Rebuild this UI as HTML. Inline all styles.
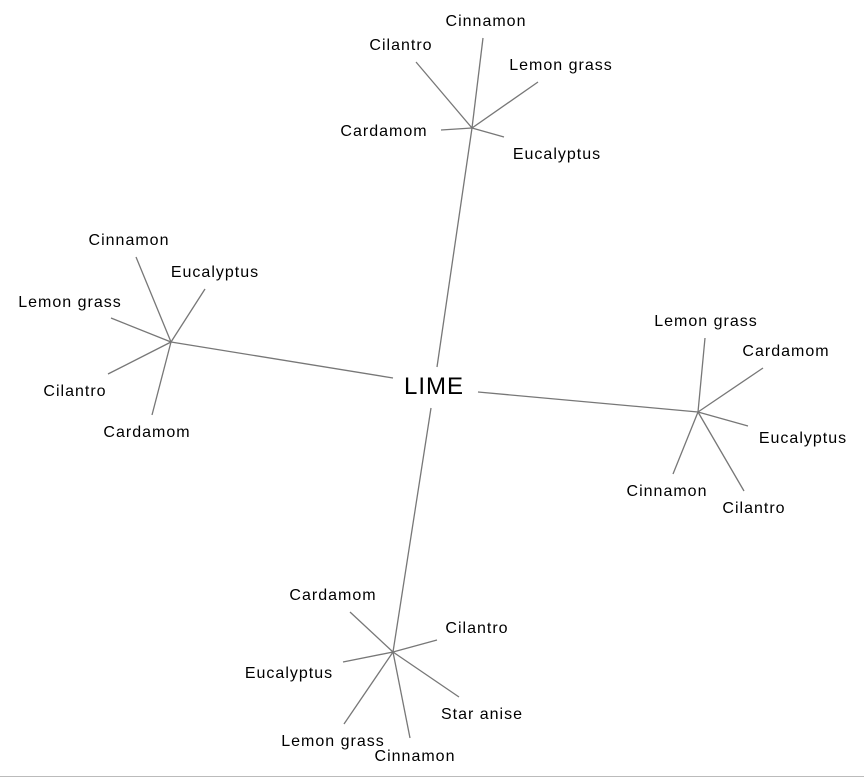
<!DOCTYPE html>
<html><head><style>body{margin:0;background:#fff}svg{display:block}text{font-family:"Liberation Sans",Arial,sans-serif;font-size:16px;letter-spacing:1px;fill:#000}</style></head>
<body>
<svg width="864" height="779" viewBox="0 0 864 779">
<g stroke="#777" stroke-width="1.3" fill="none">
<line x1="437" y1="367" x2="472" y2="128"/>
<line x1="393" y1="378" x2="171" y2="342"/>
<line x1="478" y1="392" x2="698" y2="412"/>
<line x1="431" y1="408" x2="393" y2="652"/>
<line x1="472" y1="128" x2="483" y2="38"/>
<line x1="472" y1="128" x2="416" y2="62"/>
<line x1="472" y1="128" x2="538" y2="82"/>
<line x1="472" y1="128" x2="441" y2="130"/>
<line x1="472" y1="128" x2="504" y2="137"/>
<line x1="171" y1="342" x2="136" y2="257"/>
<line x1="171" y1="342" x2="205" y2="289"/>
<line x1="171" y1="342" x2="111" y2="318"/>
<line x1="171" y1="342" x2="108" y2="374"/>
<line x1="171" y1="342" x2="152" y2="415"/>
<line x1="698" y1="412" x2="705" y2="338"/>
<line x1="698" y1="412" x2="763" y2="368"/>
<line x1="698" y1="412" x2="748" y2="426"/>
<line x1="698" y1="412" x2="673" y2="474"/>
<line x1="698" y1="412" x2="744" y2="491"/>
<line x1="393" y1="652" x2="350" y2="612"/>
<line x1="393" y1="652" x2="437" y2="640"/>
<line x1="393" y1="652" x2="343" y2="662"/>
<line x1="393" y1="652" x2="459" y2="697"/>
<line x1="393" y1="652" x2="344" y2="724"/>
<line x1="393" y1="652" x2="410" y2="738"/>
</g>
<line x1="0" y1="776.5" x2="864" y2="776.5" stroke="#bbb" stroke-width="1"/>
<g text-anchor="middle">
<text x="434" y="394" style="font-size:24px">LIME</text>
<text x="486" y="26">Cinnamon</text>
<text x="401" y="50">Cilantro</text>
<text x="561" y="70">Lemon grass</text>
<text x="384" y="136">Cardamom</text>
<text x="557" y="159">Eucalyptus</text>
<text x="129" y="245">Cinnamon</text>
<text x="215" y="277">Eucalyptus</text>
<text x="70" y="307">Lemon grass</text>
<text x="75" y="396">Cilantro</text>
<text x="147" y="437">Cardamom</text>
<text x="706" y="326">Lemon grass</text>
<text x="786" y="356">Cardamom</text>
<text x="803" y="443">Eucalyptus</text>
<text x="667" y="496">Cinnamon</text>
<text x="754" y="513">Cilantro</text>
<text x="333" y="600">Cardamom</text>
<text x="477" y="633">Cilantro</text>
<text x="289" y="678">Eucalyptus</text>
<text x="482" y="719">Star anise</text>
<text x="333" y="746">Lemon grass</text>
<text x="415" y="761">Cinnamon</text>
</g>
</svg>
</body></html>
